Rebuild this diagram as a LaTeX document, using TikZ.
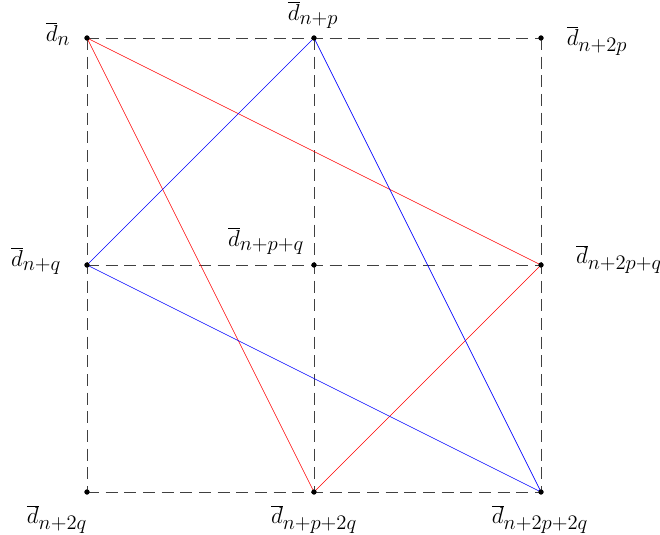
\RequirePackage{fix-cm}
\documentclass[tikz,border=0pt]{standalone}
\DeclareMathSizes{17.28}{17.28}{15.5}{12}
\begin{document}
\begin{tikzpicture}[x=0.75pt,y=-0.75pt,
  dot/.style={circle,fill=black,inner sep=0pt,minimum size=3.8pt},
  gridline/.style={black!75,dash pattern=on 9pt off 5pt,line width=0.5pt},
  redline/.style={red,line width=0.5pt},
  blueline/.style={blue,line width=0.5pt},
  lab/.style={inner sep=0pt,font=\LARGE}]
\useasboundingbox (0,0) rectangle (660,535);
% grid points
\node[dot] (a) at (87,38) {};
\node[dot] (b) at (314,38) {};
\node[dot] (c) at (541,38) {};
\node[dot] (d) at (87,265) {};
\node[dot] (e) at (314,265) {};
\node[dot] (f) at (541,265) {};
\node[dot] (g) at (87,492) {};
\node[dot] (h) at (314,492) {};
\node[dot] (i) at (541,492) {};
% dashed grid
\draw[gridline] (a.center) -- (c.center);
\draw[gridline] (d.center) -- (f.center);
\draw[gridline] (g.center) -- (i.center);
\draw[gridline] (a.center) -- (g.center);
\draw[gridline] (b.center) -- (h.center);
\draw[gridline] (c.center) -- (i.center);
% red
\draw[redline] (a.center) -- (f.center);
\draw[redline] (a.center) -- (h.center);
\draw[redline] (h.center) -- (f.center);
% blue
\draw[blueline] (b.center) -- (d.center);
\draw[blueline] (b.center) -- (i.center);
\draw[blueline] (d.center) -- (i.center);
% redraw dots on top
\foreach \p in {a,b,c,d,e,f,g,h,i} \fill (\p) circle (1.9pt);
% labels
\node[lab] (la) at (58,34) {$\overline{d}_{n}$};
\node[lab] (lb) at (313,15) {$\overline{d}_{n+p}$};
\node[lab] (lc) at (597,41) {$\overline{d}_{n+2p}$};
\node[lab] (ld) at (36,261) {$\overline{d}_{n+q}$};
\node[lab] (le) at (266,241) {$\overline{d}_{n+p+q}$};
\node[lab] (lf) at (619,259) {$\overline{d}_{n+2p+q}$};
\node[lab] (lg) at (57,519) {$\overline{d}_{n+2q}$};
\node[lab] (lh) at (314,519) {$\overline{d}_{n+p+2q}$};
\node[lab] (li) at (540,519) {$\overline{d}_{n+2p+2q}$};
\end{tikzpicture}
\end{document}
